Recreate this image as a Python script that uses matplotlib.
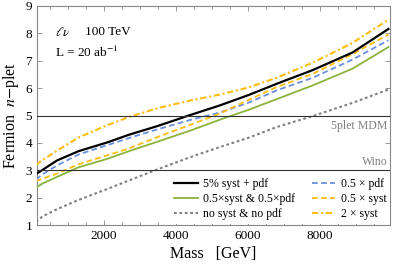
import matplotlib
matplotlib.use("Agg")
import matplotlib.pyplot as plt
from matplotlib.ticker import MultipleLocator

plt.rcParams['font.family'] = ['Liberation Serif', 'DejaVu Serif']
plt.rcParams['mathtext.fontset'] = 'stix'

mass = [110, 300, 700, 1300, 2100, 2700, 3500, 4400, 5200, 6000, 6800, 7800, 8900, 9900]
nominal = [2.86, 3.02, 3.36, 3.70, 4.02, 4.30, 4.62, 5.02, 5.36, 5.74, 6.16, 6.66, 7.30, 8.16]
half_both = [2.37, 2.52, 2.76, 3.11, 3.42, 3.70, 4.05, 4.45, 4.84, 5.20, 5.60, 6.10, 6.71, 7.50]
no_both = [1.12, 1.32, 1.58, 1.92, 2.32, 2.63, 3.04, 3.48, 3.84, 4.18, 4.58, 4.98, 5.46, 5.95]
half_pdf = [2.66, 2.86, 3.18, 3.58, 3.92, 4.18, 4.50, 4.84, 5.10, 5.46, 5.92, 6.38, 7.04, 7.75]
half_syst = [2.60, 2.70, 2.88, 3.22, 3.55, 3.80, 4.22, 4.66, 5.06, 5.56, 6.04, 6.52, 7.24, 7.96]
two_syst = [3.20, 3.38, 3.72, 4.20, 4.65, 4.95, 5.27, 5.55, 5.76, 6.02, 6.38, 6.93, 7.65, 8.50]

labels = ["5% syst + pdf", "0.5×syst & 0.5×pdf", "no syst & no pdf",
          "0.5 × pdf", "0.5 × syst", "2 × syst"]
ref_levels = [5, 3]
ref_names = ["5plet MDM", "Wino"]

fig = plt.figure(figsize=(3.99, 2.69), dpi=100)
ax = fig.add_axes([37/399, 1-225/269, (390-37)/399, (225-6)/269])

for lv in ref_levels:
    ax.axhline(lv, color='#333333', lw=0.8, zorder=7)

l1, = ax.plot(mass, nominal, color='black', lw=1.6, label=labels[0], zorder=5)
l2, = ax.plot(mass, half_both, color='#8cb43c', lw=1.3, label=labels[1], zorder=4)
l3, = ax.plot(mass, no_both, color='#808080', lw=1.5, dashes=(1.3, 1.3), label=labels[2], zorder=4)
l4, = ax.plot(mass, half_pdf, color='#6b8fdc', lw=1.3, dashes=(3.2, 1.8), label=labels[3], zorder=4)
l5, = ax.plot(mass, half_syst, color='#fbbd10', lw=1.3, dashes=(3.2, 1.8), label=labels[4], zorder=4)
l6, = ax.plot(mass, two_syst, color='#fbbd10', lw=1.5, dashes=(3.0, 1.3, 1.0, 1.3), label=labels[5], zorder=4)

ax.set_xlim(139, 9944)
ax.set_ylim(1, 9)
ax.xaxis.set_major_locator(MultipleLocator(2000))
ax.xaxis.set_minor_locator(MultipleLocator(500))
ax.yaxis.set_major_locator(MultipleLocator(1))
ax.tick_params(which='both', direction='in', top=True, right=True, color='#888888', labelsize=9.5)
ax.tick_params(which='major', length=3.5, width=0.6)
ax.tick_params(which='minor', length=2, width=0.6)
for s in ax.spines.values():
    s.set_color('#888888')
    s.set_linewidth(0.8)

ax.text(9880, 4.82, ref_names[0], color='#808080', fontsize=8.5, ha='right', va='top')
ax.text(9880, 3.08, ref_names[1], color='#808080', fontsize=8.5, ha='right', va='bottom')

ax.text(0.051, 0.88, r"$\ell\nu$", transform=ax.transAxes, fontsize=9.5, va='center')
ax.text(0.135, 0.88, "100 TeV", transform=ax.transAxes, fontsize=9.5, va='center')
ax.text(0.051, 0.79, r"L = 20 ab$^{-1}$", transform=ax.transAxes, fontsize=9.5, va='center')

ax.set_xlabel("Mass   [GeV]", fontsize=11.5, labelpad=3)
ax.set_ylabel(r"Fermion  $n$$-$plet", fontsize=11.5, labelpad=3)

leg = ax.legend(handles=[l1, l2, l3, l4, l5, l6], ncol=2, loc='lower right',
                bbox_to_anchor=(1.0, 0.005), fontsize=8.5, frameon=True,
                facecolor='white', edgecolor='none', framealpha=1,
                handlelength=2.0, handletextpad=0.45, columnspacing=1.4,
                labelspacing=0.28, borderpad=0.3, borderaxespad=0.0)
leg.get_frame().set_boxstyle('square', pad=0)
leg.set_zorder(6)

fig.savefig("out.png", dpi=100)
